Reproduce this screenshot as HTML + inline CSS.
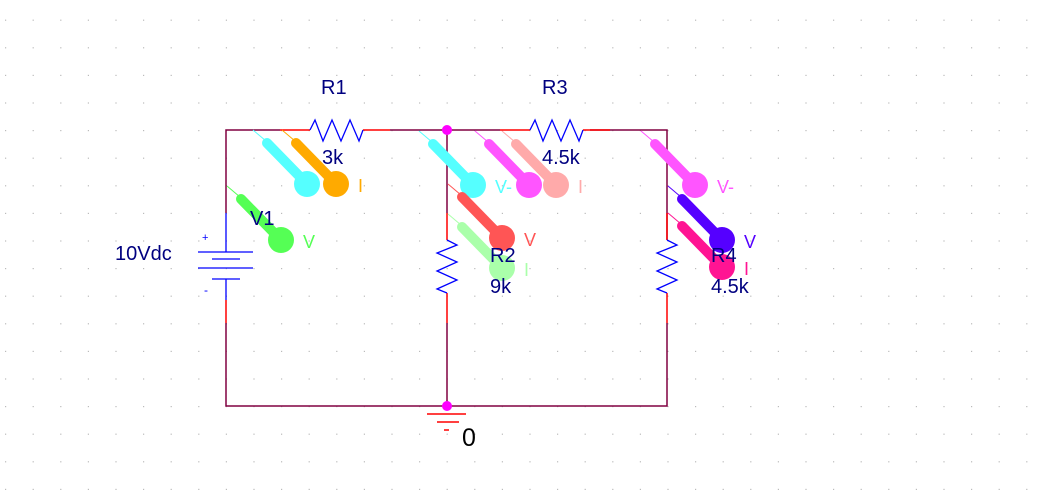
<!DOCTYPE html>
<html><head><meta charset="utf-8"><style>
html,body{margin:0;padding:0;background:#fff;}
svg{display:block;}
text{font-family:"Liberation Sans",sans-serif;}
</style></head><body>
<svg id="s" width="1048" height="502" viewBox="0 0 1048 502">
<g id="grid"></g>
<g stroke="#800040" stroke-width="1.5" fill="none">
<path d="M226 187 V130 H280 M390 130 H500 M590 130 H667 V240 M667 323 V406 H226 V323 M447 130 V213 M447 323 V406"/>
<path d="M226 187 V213" stroke="#800040"/>
</g>
<g stroke="#f00" stroke-width="1.5" fill="none">
<path d="M280 130 H310 M363 130 H390 M500 130 H530 M583 130 H610 M447 213 V240 M447 293 V323 M667 213 V240 M667 293 V323 M226 300 V323"/>
</g>
<g stroke="#00f" stroke-width="1.3" fill="none">
<polyline points="310,130 315,120 323,141 332,120 341,141 350,120 359,141 363,130"/>
<polyline points="530,130 535,120 543,141 552,120 561,141 570,120 579,141 583,130"/>
<polyline points="447,240 457,245 437,253 457,262 437,271 457,280 437,289 447,293"/>
<polyline points="667,240 677,245 657,253 677,262 657,271 677,280 657,289 667,293"/>
<g>
<path d="M226 213 V252 M198 252 H253 M212 259 H240 M198 268 H253 M212 279 H240 M226 279 V300"/>
</g>
</g>
<text x="202" y="241" font-size="11" fill="#00f">+</text>
<text x="204" y="294" font-size="12" fill="#00f">-</text>
<g id="probes"></g>
<g fill="#f0f">
<circle cx="447" cy="130" r="5"/>
<circle cx="447" cy="406" r="5"/>
</g>
<g stroke="#f00" stroke-width="1.5">
<path d="M427 414 H466 M437 422 H459 M444 430 H449"/>
</g>
<g fill="#000080" font-size="20">
<text x="321" y="94">R1</text>
<text x="322" y="164">3k</text>
<text x="542" y="94">R3</text>
<text x="542" y="164">4.5k</text>
<text x="250" y="225">V1</text>
<text x="115" y="260">10Vdc</text>
<text x="490" y="262">R2</text>
<text x="490" y="293">9k</text>
<text x="711" y="262">R4</text>
<text x="711" y="293">4.5k</text>
</g>
<text x="462" y="446" font-size="25" fill="#000">0</text>
</svg>
<script>
const NS='http://www.w3.org/2000/svg';
const grid=document.getElementById('grid');
for(let i=0;i<38;i++)for(let j=0;j<18;j++){
  const r=document.createElementNS(NS,'rect');
  r.setAttribute('x',(5+i*27.6).toFixed(1));r.setAttribute('y',(19.6+j*27.6).toFixed(1));
  r.setAttribute('width',1.2);r.setAttribute('height',1.2);r.setAttribute('fill','#bbb');
  
  
  grid.appendChild(r);
}
const probeX=[307,336,281,473,529,556,502,502,695,722,722];
const probeY=[184,184,240,185,185,185,238,268,185,240,267];
const probeC=['#55ffff','#ffaa00','#55ff55','#55ffff','#ff55ff','#ffaaaa','#ff5555','#aaffaa','#ff55ff','#5500ff','#ff1493'];
const probeT=['','I','V','V-','','I','V','I','V-','V','I'];
const pg=document.getElementById('probes');
for(let k=0;k<probeX.length;k++){
  const cx=probeX[k],cy=probeY[k],c=probeC[k];
  const g=document.createElementNS(NS,'g');
  
  
  const t=document.createElementNS(NS,'line');
  t.setAttribute('x1',cx-54);t.setAttribute('y1',cy-54);t.setAttribute('x2',cx-41);t.setAttribute('y2',cy-43);
  t.setAttribute('stroke',c);t.setAttribute('stroke-width',1);
  g.appendChild(t);
  const th=document.createElementNS(NS,'line');
  th.setAttribute('x1',cx-40);th.setAttribute('y1',cy-41);th.setAttribute('x2',cx);th.setAttribute('y2',cy);
  th.setAttribute('stroke',c);th.setAttribute('stroke-width',10);th.setAttribute('stroke-linecap','round');
  g.appendChild(th);
  const ci=document.createElementNS(NS,'circle');
  ci.setAttribute('cx',cx);ci.setAttribute('cy',cy);ci.setAttribute('r',13);ci.setAttribute('fill',c);
  g.appendChild(ci);
  if(probeT[k]){
    const tx=document.createElementNS(NS,'text');
    tx.setAttribute('x',cx+22);tx.setAttribute('y',cy+8);tx.setAttribute('font-size','18');tx.setAttribute('fill',c);
    tx.textContent=probeT[k];
    
    
    g.appendChild(tx);
  }
  pg.appendChild(g);
}
</script>
</body></html>
